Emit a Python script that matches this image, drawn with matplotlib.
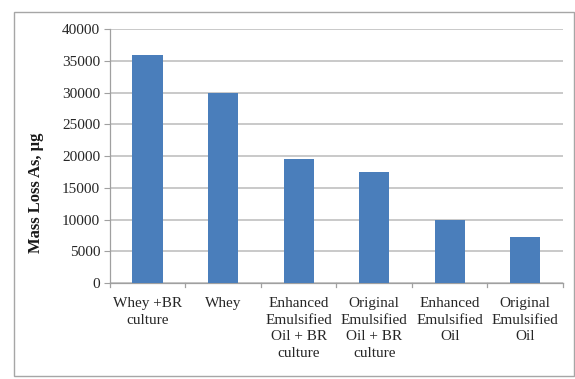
import matplotlib
matplotlib.use("Agg")
import matplotlib.pyplot as plt
from matplotlib.patches import Rectangle

categories = [
    "Whey +BR\nculture",
    "Whey",
    "Enhanced\nEmulsified\nOil + BR\nculture",
    "Original\nEmulsified\nOil + BR\nculture",
    "Enhanced\nEmulsified\nOil",
    "Original\nEmulsified\nOil",
]
mass_loss = [36000, 30000, 19500, 17500, 10000, 7200]
y_ticks = [0, 5000, 10000, 15000, 20000, 25000, 30000, 35000, 40000]

plt.rcParams["font.family"] = ["Liberation Serif", "DejaVu Serif"]

fig = plt.figure(figsize=(5.75, 3.79), dpi=100)
ax = fig.add_axes([0.191, 0.253, 0.788, 0.670])

# outer chart frame
fig.patches.append(Rectangle((14 / 575, 3 / 379), 560 / 575, 364 / 379,
                             transform=fig.transFigure, fill=False,
                             edgecolor="#a6a6a6", linewidth=1.0))

x = range(len(categories))
ax.bar(x, mass_loss, width=0.4, color="#4a7ebb", zorder=3)

ax.set_xlim(-0.5, len(categories) - 0.5)
ax.set_ylim(0, 40000)
ax.set_yticks(y_ticks)
ax.set_yticklabels([str(v) for v in y_ticks], fontsize=11, color="#262626")
ax.set_xticks(list(x))
ax.set_xticklabels(categories, fontsize=11, color="#262626", linespacing=1.35)
ax.tick_params(axis="x", length=0, pad=10)
ax.tick_params(axis="y", length=4, color="#a0a0a0", pad=3)

# category boundary tick marks
for b in [i - 0.5 for i in range(len(categories) + 1)]:
    ax.plot([b, b], [0, -600], color="#a0a0a0", linewidth=0.9,
            clip_on=False, zorder=4)

ax.yaxis.grid(True, color="#c0c0c0", linewidth=1.2, zorder=0)
for side in ["top", "right"]:
    ax.spines[side].set_visible(False)
for side in ["left", "bottom"]:
    ax.spines[side].set_color("#a0a0a0")
    ax.spines[side].set_linewidth(0.9)

fig.text(36 / 575, 1 - 193 / 379, "Mass Loss As, µg", fontsize=12,
         fontweight="bold", color="#1a1a1a", rotation=90,
         ha="center", va="center")

fig.savefig("out.png", dpi=100)
